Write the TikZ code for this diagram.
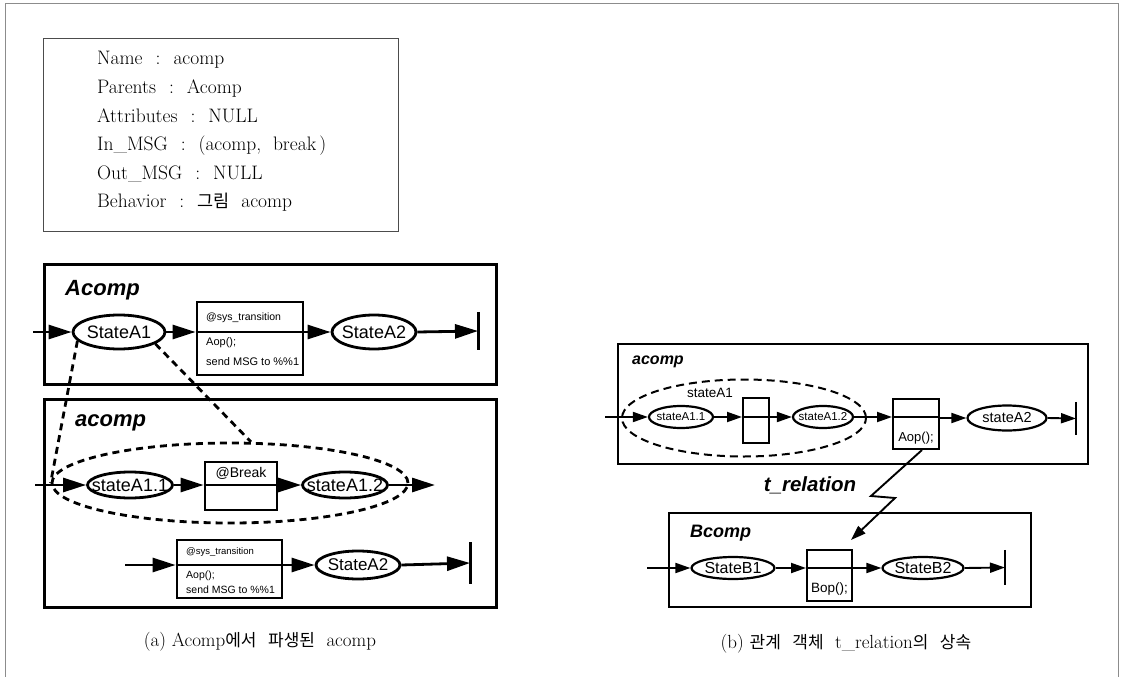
\documentclass[tikz,border=0pt]{standalone}
\usepackage{fontspec}
\newfontfamily\dsans{Liberation Sans}
\newfontfamily\kr{Noto Sans CJK KR}
\usetikzlibrary{arrows.meta,shapes.geometric,calc}
\newcommand{\mk}[1]{\makebox[0pt]{#1}}
\newcommand{\fs}[1]{\fontsize{#1}{#1}\selectfont}
\newcommand{\sep}{\hspace{13pt}:\hspace{13pt}}
\begin{document}
\begin{tikzpicture}[x=1pt,y=-1pt,
  frame/.style={draw=black!45, line width=0.8pt},
  infobox/.style={draw=black!70, line width=0.8pt, anchor=north west, inner sep=0pt},
  infoline/.style={anchor=base west, inner sep=0pt, font=\fs{19.5}},
  % part (a)
  compA/.style={draw, line width=3pt, anchor=north west, inner sep=0pt},
  lblA/.style={anchor=west, inner sep=0pt, font=\dsans\bfseries\itshape\fs{22}},
  stateA/.style={ellipse, draw, line width=2.8pt, inner sep=0pt, font=\dsans\fs{18}},
  boxA/.style={draw, line width=2.8pt, inner sep=0pt},
  small/.style={anchor=west, inner sep=0pt, font=\dsans\fs{10.5}},
  connA/.style={line width=2.8pt, -{Triangle[length=23pt,width=14pt]}},
  lineA/.style={line width=2.6pt},
  dashA/.style={line width=2.8pt, dash pattern=on 7pt off 5pt},
  endbar/.style={inner sep=0pt, minimum width=0pt},
  % part (b)
  compB/.style={draw, line width=2.3pt, anchor=north west, inner sep=0pt},
  lblB/.style={anchor=west, inner sep=0pt, font=\dsans\bfseries\itshape\fs{16}},
  stateB/.style={ellipse, draw, line width=2.2pt, inner sep=0pt},
  boxB/.style={draw, line width=2pt, inner sep=0pt},
  connB/.style={line width=1.9pt, -{Triangle[length=15pt,width=10pt]}},
  lineB/.style={line width=1.9pt},
  dashB/.style={line width=2pt, dash pattern=on 8pt off 5pt},
  caption/.style={inner sep=0pt, font=\fs{19}}
]
\useasboundingbox (0,0) rectangle (1125,677);

% outer frame
\draw[frame] (5,677) -- (5,3) -- (1118,3) -- (1118,677);

% ---------- class description ----------
\node[infobox, minimum width=355pt, minimum height=193pt] (info) at (43,38) {};
\node[infoline] (l1) at (97,65)  {Name\sep acomp};
\node[infoline] (l2) at (97,93)  {Parents\sep Acomp};
\node[infoline] (l3) at (97,122) {Attributes\sep NULL};
\node[infoline] (l4) at (97,150) {In\_MSG\sep (acomp,\ \ break\,)};
\node[infoline] (l5) at (97,179) {Out\_MSG\sep NULL};
\node[infoline] (l6) at (97,207) {Behavior\sep {\kr\fs{17.5}그림}\ \ acomp};

% ---------- (a) Acomp ----------
\node[compA, minimum width=452pt, minimum height=120pt] (Acomp) at (43,263) {};
\node[lblA] (AcompL) at (65,290) {Acomp};
\node[stateA, minimum width=92pt, minimum height=34pt] (sA1) at (119,332) {\mk{StateA1}};
\node[boxA, minimum width=106pt, minimum height=73pt] (tb1) at (250,338.5) {};
\node[small] (tb1h) at (206,318) {@sys\_transition};
\node[small, font=\dsans\fs{11}] (tb1a) at (206,343) {Aop();};
\node[small, font=\dsans\fs{11}] (tb1b) at (206,362) {send MSG to \%\%1};
\node[stateA, minimum width=84pt, minimum height=34pt] (sA2) at (374,332) {\mk{StateA2}};
\node[endbar, minimum height=38pt] (eA) at (478,331) {};
\coordinate (inA) at (33,332);

\draw[lineA] (tb1.west |- sA1) -- (tb1.east |- sA1);
\draw[connA] (inA) -- (sA1.west);
\draw[connA] (sA1.east) -- (tb1.west |- sA1);
\draw[connA] (tb1.east |- sA2) -- (sA2.west);
\draw[connA] (sA2.east) -- (eA.center);
\draw[lineA, line width=3pt] (eA.north) -- (eA.south);

% ---------- (a) acomp ----------
\node[compA, minimum width=452pt, minimum height=208pt] (acomp) at (43,398) {};
\node[lblA] (acompL) at (75,423) {acomp};
\node[ellipse, draw, dashA, minimum width=356pt, minimum height=80pt, inner sep=0pt] (grp) at (230,483) {};
\node[stateA, minimum width=85pt, minimum height=26pt] (s11) at (130,485) {\mk{stateA1.1}};
\node[boxA, minimum width=72pt, minimum height=48pt] (brk) at (241,486) {};
\node[inner sep=0pt, font=\dsans\fs{14}] (brkh) at (241,473) {@Break};
\node[stateA, minimum width=85pt, minimum height=26pt] (s12) at (345,485) {\mk{stateA1.2}};
\coordinate (inB) at (35,485);
\coordinate (outB) at (435,485);

\draw[lineA] (brk.west |- s11) -- (brk.east |- s11);
\draw[connA] (inB) -- (s11.west);
\draw[connA] (s11.east) -- (brk.west |- s11);
\draw[connA] (brk.east |- s12) -- (s12.west);
\draw[connA] (s12.east) -- (outB);

\node[boxA, minimum width=105pt, minimum height=58pt] (tb2) at (229.5,569) {};
\node[small, font=\dsans\fs{9.5}] (tb2h) at (186,552) {@sys\_transition};
\node[small] (tb2a) at (186,576) {Aop();};
\node[small] (tb2b) at (186,590) {send MSG to \%\%1};
\node[stateA, minimum width=84pt, minimum height=28pt, font=\dsans\fs{17}] (sA2b) at (358,565) {\mk{StateA2}};
\node[endbar, minimum height=41pt] (eA2) at (470,563) {};
\coordinate (inC) at (125,565);

\draw[lineA] (tb2.west |- sA2b) -- (tb2.east |- sA2b);
\draw[connA] (inC) -- (tb2.west |- sA2b);
\draw[connA] (tb2.east |- sA2b) -- (sA2b.west);
\draw[connA] (sA2b.east) -- (eA2.center);
\draw[lineA, line width=3pt] (eA2.north) -- (eA2.south);

% refinement of StateA1
\draw[dashA] (sA1.192) -- (grp.west);
\draw[dashA] (sA1.-18) -- (grp.63);

\node[caption] (capA) at (260,642) {(a)\ Acomp{\kr\fs{17}에서}\ \ {\kr\fs{17}파생된}\ \ acomp};

% ---------- (b) acomp ----------
\node[compB, minimum width=470pt, minimum height=120pt] (acompB) at (617,343) {};
\node[lblB] (acompBL) at (632,362) {acomp};
\node[ellipse, draw, dashB, minimum width=244pt, minimum height=77pt, inner sep=0pt] (grpb) at (744,418) {};
\node[inner sep=0pt, font=\dsans\fs{13.5}] (grpbL) at (710,393) {stateA1};
\node[stateB, minimum width=64pt, minimum height=22pt, font=\dsans\fs{11.5}] (s11b) at (681,417) {\mk{stateA1.1}};
\node[boxB, minimum width=26pt, minimum height=45pt] (bx1) at (756,420.5) {};
\node[stateB, minimum width=60pt, minimum height=22pt, font=\dsans\fs{11.5}] (s12b) at (823,417) {\mk{stateA1.2}};
\node[boxB, minimum width=46pt, minimum height=50pt] (aop) at (916,424) {};
\node[inner sep=0pt, font=\dsans\fs{13}] (aopL) at (916,438) {Aop();};
\node[stateB, minimum width=79pt, minimum height=25pt, font=\dsans\fs{14.5}] (s2b) at (1007,418) {\mk{stateA2}};
\node[endbar, minimum height=33pt] (eB) at (1076,418.5) {};
\coordinate (inD) at (605,417);

\draw[lineB] (bx1.west |- s11b) -- (bx1.east |- s11b);
\draw[lineB] (aop.west |- s11b) -- (aop.east |- s11b);
\draw[connB] (inD) -- (s11b.west);
\draw[connB] (s11b.east) -- (bx1.west |- s11b);
\draw[connB] (bx1.east |- s12b) -- (s12b.west);
\draw[connB] (s12b.east) -- (aop.west |- s12b);
\draw[connB] (aop.east |- s2b) -- (s2b.west);
\draw[connB] (s2b.east) -- (eB.center);
\draw[lineB, line width=2.4pt] (eB.north) -- (eB.south);

% ---------- (b) Bcomp ----------
\node[compB, minimum width=362pt, minimum height=94pt] (Bcomp) at (668,512) {};
\node[lblB, font=\dsans\bfseries\itshape\fs{18}] (BcompL) at (690,533) {Bcomp};
\node[stateB, minimum width=83pt, minimum height=22pt, font=\dsans\fs{16}] (sB1) at (733,568) {\mk{StateB1}};
\node[boxB, minimum width=45pt, minimum height=51pt] (bop) at (829.5,575.5) {};
\node[inner sep=0pt, font=\dsans\fs{13.5}] (bopL) at (829.5,589) {Bop();};
\node[stateB, minimum width=81pt, minimum height=22pt, font=\dsans\fs{16}] (sB2) at (923,568) {\mk{StateB2}};
\node[endbar, minimum height=35pt] (eBB) at (1005,567.5) {};
\coordinate (inE) at (647,568);

\draw[lineB] (bop.west |- sB1) -- (bop.east |- sB1);
\draw[connB] (inE) -- (sB1.west);
\draw[connB] (sB1.east) -- (bop.west |- sB1);
\draw[connB] (bop.east |- sB2) -- (sB2.west);
\draw[connB] (sB2.east) -- (eBB.center);
\draw[lineB, line width=2.4pt] (eBB.north) -- (eBB.south);

% inheritance relation
\draw[connB] ($(aop.south)!0.25!(aop.south east)$) -- (871,496) -- (895,498) -- ($(bop.north east)+(-2,-9)$);
\node[inner sep=0pt, font=\dsans\bfseries\itshape\fs{20.5}] (trel) at (810,485) {t\_relation};

\node[caption] (capB) at (846,644) {(b)\ {\kr\fs{17}관계}\ \ {\kr\fs{17}객체}\ \ t\_relation{\kr\fs{17}의}\ \ {\kr\fs{17}상속}};
\end{tikzpicture}
\end{document}
